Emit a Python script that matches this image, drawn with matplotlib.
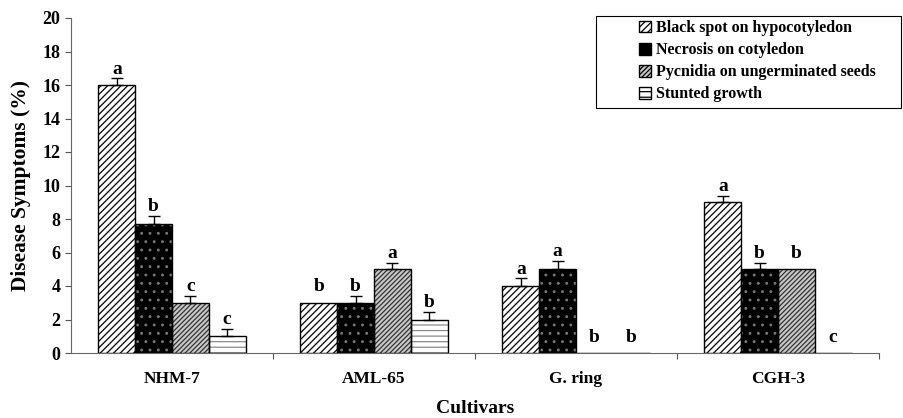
import numpy as np
import matplotlib.pyplot as plt
from matplotlib.patches import Patch, Rectangle

cultivars = ["NHM-7", "AML-65", "G. ring", "CGH-3"]
series = ["Black spot on hypocotyledon", "Necrosis on cotyledon",
          "Pycnidia on ungerminated seeds", "Stunted growth"]
black_spot = [16.0, 3.0, 4.0, 9.0]
necrosis = [7.7, 3.0, 5.0, 5.0]
pycnidia = [3.0, 5.0, 0.0, 5.0]
stunted = [1.0, 2.0, 0.0, 0.0]
err_black = [0.4, 0.0, 0.45, 0.4]
err_necro = [0.5, 0.4, 0.5, 0.4]
err_pycn = [0.4, 0.4, 0.0, 0.0]
err_stunt = [0.45, 0.45, 0.0, 0.0]
letters = [["a", "b", "a", "a"], ["b", "b", "a", "b"],
           ["c", "a", "b", "b"], ["c", "b", "b", "c"]]

plt.rcParams['font.family'] = ['Liberation Serif', 'DejaVu Serif']
plt.rcParams['font.weight'] = 'bold'
plt.rcParams['hatch.linewidth'] = 0.9

fig = plt.figure(figsize=(9.04, 4.18), dpi=100)
ax = fig.add_axes([71 / 904, 1 - 353 / 418, 808 / 904, 335 / 418])

values = [black_spot, necrosis, pycnidia, stunted]
errors = [err_black, err_necro, err_pycn, err_stunt]
styles = [
    dict(face="white", hatch="/////", hcol="black"),
    dict(face="black", hatch="..", hcol="#777777"),
    dict(face="#c8c8c8", hatch="///////", hcol="#333333"),
    dict(face="white", hatch="---", hcol="#8a8a8a"),
]
x = np.arange(len(cultivars)) + 0.5
w = 0.182
for i, (vals, errs, st) in enumerate(zip(values, errors, styles)):
    pos = x + (i - 1.5) * w
    ax.bar(pos, vals, w, color=st["face"], hatch=st["hatch"],
           edgecolor=st["hcol"], linewidth=0, zorder=2)
    ax.bar(pos, vals, w, fill=False, edgecolor="black", linewidth=1.0, zorder=3)
    for p, v, e, lab in zip(pos, vals, errs, letters[i]):
        if e > 0:
            ax.errorbar(p, v, yerr=[[0], [e]], fmt="none", ecolor="black",
                        elinewidth=1, capsize=4, capthick=1, zorder=4)
        ax.text(p, v + max(e, 0.4) + 0.28, lab, ha="center", va="baseline",
                fontsize=14, fontweight="bold", zorder=5)

ax.set_xlim(0, 4)
ax.set_ylim(0, 20)
ax.set_yticks(np.arange(0, 21, 2))
ax.set_xticks([1, 2, 3, 4])
ax.set_xticklabels([])
ax.set_xticks(x, minor=True)
ax.set_xticklabels(cultivars, minor=True, fontsize=12.5, fontweight="bold")
ax.tick_params(axis="x", which="minor", length=0, pad=13)
ax.tick_params(axis="x", which="major", length=4, color="#555555")
ax.tick_params(axis="y", length=4, color="#555555", labelsize=13)
for lab in ax.get_yticklabels():
    lab.set_fontweight("bold")
for s in ["top", "right"]:
    ax.spines[s].set_visible(False)
for s in ["left", "bottom"]:
    ax.spines[s].set_color("#666666")
ax.set_ylabel("Disease Symptoms (%)", fontsize=15.5, fontweight="bold", labelpad=8)
ax.set_xlabel("Cultivars", fontsize=14, fontweight="bold", labelpad=9)

# legend frame drawn separately: the box is wider than its entries
fig.patches.append(Rectangle((596 / 904, 1 - 108 / 418), 305 / 904, 92 / 418,
                             transform=fig.transFigure, fill=False,
                             edgecolor="black", linewidth=0.8))
handles = [Patch(facecolor=st["face"], hatch=st["hatch"], edgecolor="black")
           for st in styles]
fig.legend(handles, series, loc="upper left",
           bbox_to_anchor=(636 / 904, 1 - 17 / 418),
           prop=dict(family="Liberation Serif", weight="bold", size=11.5),
           frameon=False, handlelength=0.75, handleheight=0.75,
           handletextpad=0.3, labelspacing=0.38, borderpad=0.2, borderaxespad=0)

fig.savefig("out.png", dpi=100)
